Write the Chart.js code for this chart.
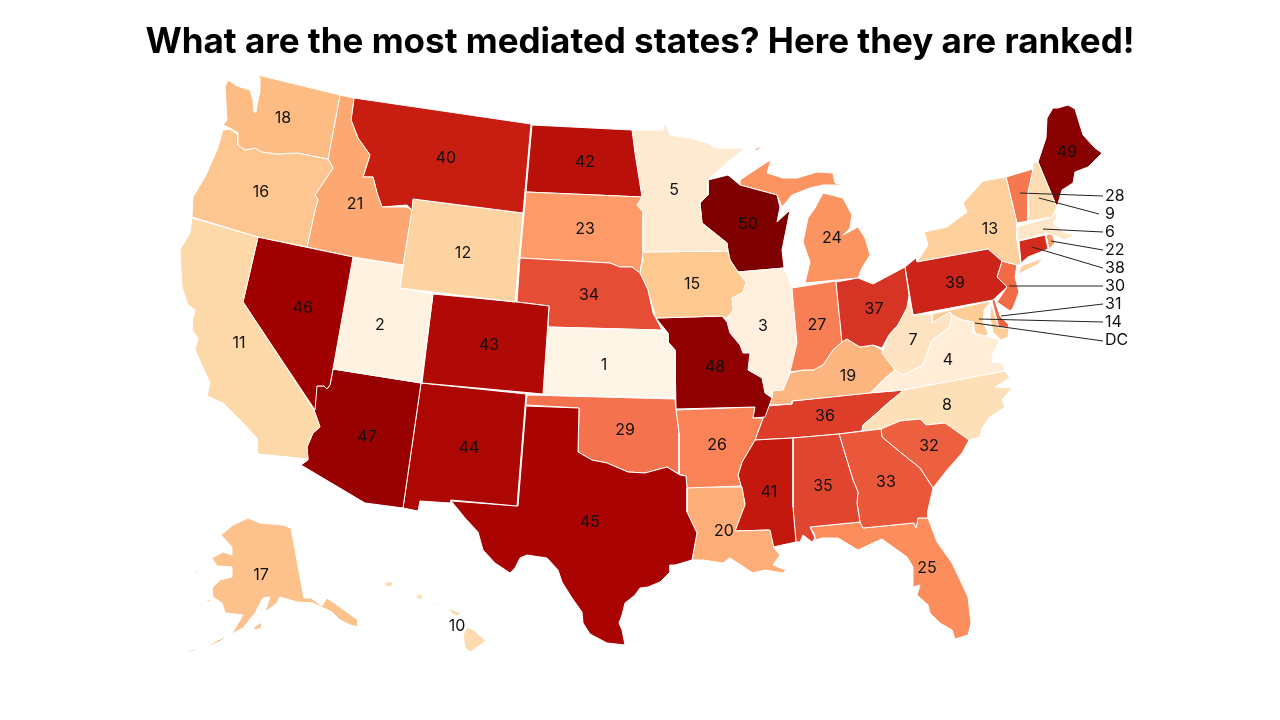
<!DOCTYPE html>
<html>
<head>
<meta charset="utf-8">
<style>
  html, body { margin: 0; background: #fff; }
  canvas { display: block; }
</style>
<script src="https://cdn.jsdelivr.net/npm/chart.js@4"></script>
</head>
<body>
<canvas id="map" width="1280" height="720"></canvas>
<script>
// outlines, in picture coordinates
const WA = [[258,75],[340,95],[328,159],[298,153],[277,154],[262,152],[255,148],[245,150],[238,145],[238,133],[230,128],[223,125],[227,120],[225,87],[228,80],[237,86],[250,90],[253,100],[254,112],[256,112],[258,100],[260,92],[260,78]];
const OR = [[223,130],[230,129],[238,135],[238,145],[245,150],[255,148],[262,152],[277,154],[298,153],[328,159],[333,168],[323,183],[315,195],[318,200],[315,210],[307,247],[258,237],[192,217],[193,197],[205,177],[217,150]];
const CA = [[192,218],[258,237],[243,302],[314,410],[320,427],[313,433],[307,447],[308,459],[258,454],[257,438],[243,423],[235,415],[223,403],[207,396],[210,383],[195,350],[198,338],[192,330],[193,318],[195,310],[188,305],[182,287],[180,250],[190,233]];
const NV = [[258,237],[353,257],[333,369],[330,385],[327,389],[324,386],[317,386],[315,410],[243,302]];
const ID = [[340,95],[354,98],[351,120],[358,138],[370,155],[363,177],[373,177],[377,193],[382,207],[407,207],[412,210],[403,265],[353,257],[307,247],[315,210],[318,200],[315,195],[323,183],[333,168],[328,159]];
const MT = [[354,98],[531,124],[523,213],[413,199],[412,210],[407,205],[382,207],[377,193],[373,177],[363,177],[370,155],[358,138],[351,120]];
const WY = [[413,199],[523,213],[515,302],[400,288]];
const UT = [[353,257],[403,265],[400,288],[433,294],[421,383],[333,369]];
const CO = [[433,294],[517,302],[549,306],[543,394],[422,383]];
const AZ = [[333,369],[421,383],[403,508],[365,503],[301,465],[308,460],[307,447],[313,433],[320,427],[314,410],[315,386],[324,386],[327,389],[330,385]];
const NM = [[421,383],[526,394],[517,506],[451,500],[450,503],[420,501],[418,511],[403,508]];
const TX = [[526,406],[579,408],[578,452],[592,460],[607,463],[628,472],[645,473],[667,467],[680,475],[686,476],[687,488],[687,512],[697,533],[692,560],[675,565],[670,565],[670,572],[660,582],[648,587],[640,588],[635,595],[625,603],[622,615],[619,623],[622,630],[625,645],[607,643],[590,634],[583,623],[582,612],[572,598],[562,582],[558,570],[547,558],[527,555],[520,558],[515,568],[510,573],[495,563],[483,550],[478,532],[465,518],[457,508],[451,501],[518,506]];
const OK = [[527,395],[675,399],[676,410],[679,433],[679,474],[667,467],[645,473],[628,472],[607,463],[592,460],[578,452],[579,408],[526,405]];
const KS = [[547,327],[657,330],[668,333],[668,342],[675,350],[675,398],[543,395]];
const NE = [[520,258],[610,263],[620,267],[632,267],[640,273],[648,290],[653,313],[662,330],[548,327],[549,306],[517,302]];
const SD = [[526,192],[642,197],[637,205],[643,212],[643,252],[640,273],[632,267],[620,267],[610,263],[520,258]];
const ND = [[532,125],[632,130],[635,153],[642,197],[526,192]];
const MN = [[632,130],[663,130],[665,122],[670,135],[690,138],[707,143],[717,148],[745,148],[728,162],[710,178],[708,180],[708,195],[700,203],[702,223],[717,235],[727,243],[728,251],[642,252],[643,212],[637,205],[642,197],[635,153]];
const IA = [[642,252],[728,251],[730,260],[738,272],[746,282],[743,292],[732,298],[733,310],[727,318],[722,316],[656,318],[648,290],[640,273],[643,260]];
const MO = [[656,318],[722,316],[727,322],[730,333],[740,345],[743,353],[750,353],[748,370],[762,378],[765,393],[772,398],[765,417],[753,418],[755,407],[676,409],[675,350],[668,342],[668,333]];
const AR = [[676,410],[755,407],[753,418],[763,418],[755,440],[742,462],[738,475],[741,486],[687,488],[686,476],[679,474],[679,433]];
const LA = [[687,487],[742,487],[745,505],[735,531],[770,530],[774,548],[780,555],[773,565],[786,570],[783,573],[765,570],[753,573],[730,558],[723,563],[703,560],[692,560],[697,533],[687,512]];
const MS = [[755,440],[793,438],[793,507],[796,542],[773,547],[769,530],[735,531],[745,503],[741,486],[738,475],[742,462]];
const AL = [[793,438],[839,434],[853,480],[858,492],[857,503],[860,522],[810,527],[815,538],[812,542],[803,535],[800,542],[796,542],[793,510]];
const GA = [[839,434],[881,429],[882,437],[900,452],[920,468],[933,488],[928,510],[928,518],[918,518],[916,528],[914,523],[863,528],[860,522],[857,503],[858,492],[853,480]];
const FL = [[810,527],[860,522],[863,528],[914,523],[916,528],[918,518],[928,518],[937,542],[952,563],[968,597],[971,623],[968,635],[955,639],[952,630],[940,623],[930,613],[928,605],[917,595],[920,585],[913,587],[913,567],[907,557],[893,547],[882,539],[875,542],[858,550],[838,538],[823,538],[815,540],[815,535]];
const SC = [[881,429],[900,421],[920,419],[926,425],[945,423],[969,440],[962,453],[947,470],[933,488],[920,468],[900,452],[882,437]];
const NC = [[904,390],[1005,371],[1010,378],[995,387],[1012,388],[1002,400],[1005,407],[990,417],[982,428],[980,437],[969,440],[945,423],[926,425],[920,419],[900,421],[881,429],[862,431],[863,425],[877,413],[888,403]];
const VA = [[870,393],[895,370],[903,375],[923,365],[932,340],[950,327],[952,315],[962,320],[973,322],[973,333],[990,337],[1000,340],[993,353],[992,362],[1003,363],[1005,371],[904,390]];
const WV = [[910,300],[913,315],[932,314],[932,323],[950,312],[952,315],[950,327],[932,340],[923,365],[903,375],[895,370],[882,353],[889,335],[898,325],[907,308]];
const OH = [[836,282],[858,278],[873,284],[905,267],[909,295],[907,308],[898,325],[889,335],[882,348],[873,345],[860,347],[847,339],[842,342]];
const IN = [[792,288],[836,281],[842,342],[833,350],[823,365],[813,370],[803,370],[790,372],[797,343],[793,300]];
const IL = [[738,272],[784,268],[792,287],[797,350],[790,372],[783,390],[772,391],[772,398],[765,393],[762,378],[748,370],[750,353],[743,353],[740,345],[730,333],[727,323],[727,318],[733,310],[732,298],[743,292],[746,282]];
const WI = [[708,180],[728,175],[740,185],[777,195],[780,207],[777,222],[790,210],[782,250],[784,268],[738,272],[730,260],[728,251],[727,243],[717,235],[702,223],[700,203],[708,195]];
const MI_LOWER = [[823,193],[843,198],[852,215],[850,228],[843,235],[858,227],[865,238],[870,255],[862,268],[858,278],[805,283],[810,262],[803,242],[808,218],[815,208]];
const MI_UPPER = [[740,180],[767,162],[771,160],[767,173],[783,178],[797,178],[817,172],[833,173],[835,183],[843,185],[823,185],[810,188],[792,195],[782,207],[777,195],[740,185]];
const MI_ISLE = [[755,149],[761,146],[760,148],[756,151]];
const KY = [[770,405],[773,390],[783,390],[790,373],[803,370],[813,370],[823,365],[833,350],[842,342],[847,339],[860,347],[873,345],[882,350],[895,370],[885,378],[870,393],[792,401],[792,404]];
const TN = [[767,406],[792,404],[792,401],[867,393],[904,390],[888,403],[877,413],[863,425],[862,431],[839,434],[793,438],[755,440],[763,418]];
const PA = [[905,267],[916,258],[917,262],[988,249],[1002,261],[997,277],[1007,287],[993,300],[913,315]];
const NY = [[917,262],[928,245],[924,232],[947,227],[967,212],[963,203],[983,181],[1006,177],[1017,223],[1017,240],[1021,265],[1017,265],[1002,261],[988,249]];
const NY_LONG = [[1018,274],[1021,266],[1043,258],[1037,265]];
const VT = [[1006,177],[1033,169],[1028,192],[1028,221],[1017,223]];
const NH = [[1033,163],[1038,162],[1053,198],[1057,207],[1052,217],[1029,221],[1028,192],[1033,169]];
const ME = [[1038,162],[1046,138],[1047,118],[1053,108],[1058,108],[1068,105],[1075,109],[1083,135],[1095,148],[1102,153],[1088,167],[1075,172],[1073,183],[1062,190],[1057,207],[1053,198]];
const MA = [[1017,227],[1052,217],[1055,212],[1057,217],[1053,223],[1063,232],[1075,235],[1065,240],[1058,237],[1047,233],[1018,241]];
const CT = [[1019,241],[1045,235],[1048,249],[1028,257],[1021,263]];
const RI = [[1046,235],[1052,233],[1055,243],[1049,249]];
const NJ = [[1002,261],[1017,265],[1015,277],[1019,292],[1013,308],[1010,311],[997,302],[1007,287],[997,277]];
const DE = [[992,301],[994,298],[1000,316],[1009,325],[1009,327],[999,328]];
const MD_WEST = [[932,314],[991,301],[984,310],[983,322],[988,333],[985,338],[975,333],[973,322],[962,320],[952,315],[950,312],[932,323]];
const MD_EAST = [[991,303],[999,328],[1009,328],[1008,337],[1001,340],[993,332],[990,318]];
const AK_MAIN = [[248,518],[260,523],[283,525],[291,528],[304,598],[311,598],[322,606],[327,598],[340,607],[358,620],[358,627],[350,625],[340,620],[332,612],[313,603],[297,602],[280,597],[277,603],[265,612],[270,597],[263,598],[255,613],[243,628],[228,636],[233,632],[243,615],[225,613],[222,603],[213,597],[212,588],[220,580],[232,577],[232,567],[217,566],[212,558],[223,552],[232,555],[232,547],[221,535],[233,525]];
const AK_KODIAK = [[253,628],[262,622],[261,628],[256,630]];
const AK_CHAIN = [[207,645],[213,643],[218,640],[225,637],[224,639],[219,642],[212,645]];
const AK_FAR = [[187,652],[197,648],[196,650],[188,653]];
const AK_LAWRENCE = [[194,570],[202,574],[200,574],[195,572]];
const AK_NUNIVAK = [[205,600],[210,599],[210,602]];
const HI_KAUAI = [[384,583],[392,581],[393,586],[387,587]];
const HI_OAHU = [[416,597],[421,593],[423,599],[418,599]];
const HI_MOLOKAI = [[435,604],[440,604],[438,606]];
const HI_MAUI = [[448,608],[453,610],[461,613],[458,616],[452,614]];
const HI_BIG = [[467,627],[475,631],[486,641],[470,652],[465,648],[463,635]];

const stateRanks = [18,16,11,46,21,40,12,2,43,47,44,45,29,1,34,23,42,5,15,48,26,20,41,35,33,25,32,8,4,7,37,27,3,50,24,24,24,19,36,39,13,13,28,9,49,6,38,22,30,31,14,14,17,17,17,17,17,17,10,10,10,10,10];
const stateShapes = [WA,OR,CA,NV,ID,MT,WY,UT,CO,AZ,NM,TX,OK,KS,NE,SD,ND,MN,IA,MO,AR,LA,MS,AL,GA,FL,SC,NC,VA,WV,OH,IN,IL,WI,MI_LOWER,MI_UPPER,MI_ISLE,KY,TN,PA,NY,NY_LONG,VT,NH,ME,MA,CT,RI,NJ,DE,MD_WEST,MD_EAST,AK_MAIN,AK_KODIAK,AK_CHAIN,AK_FAR,AK_LAWRENCE,AK_NUNIVAK,HI_KAUAI,HI_OAHU,HI_MOLOKAI,HI_MAUI,HI_BIG];

// colour per rank, index 0 = rank 1
const rankColors = ['#fff5e6','#fff2e1','#ffefdc','#ffedd8','#feead0','#fee6c8','#fee3c3','#fddfb8','#fddcb2','#fddaaf','#fdd8a9','#fdd3a1','#fdd09d','#fdcc97','#fdc991','#fdc58f','#fdc28b','#fdbc84','#fdb57f','#fdae78','#fda873','#fc9f6b','#fd9a68','#fc9462','#fc8d5c','#f98257','#f77e55','#f67850','#f4734e','#f16b47','#ee6543','#ec6040','#ea583b','#e54e35','#e04530','#dc3e2a','#d63424','#d22c1e','#cc2418','#c81e12','#c3180e','#b9100a','#b10a06','#ad0704','#a90402','#a00000','#990000','#900000','#880000','#7f0000'];

// numbers printed on the states
const mapLabels = ['18','16','21','40','12','46','2','11','47','43','44','42','23','34','5','15','50','24','3','27','1','48','29','26','45','41','35','33','36','19','32','8','4','7','37','39','13','49','20','25','17','10'];
const mapLabelX = [283,261,355,446,463,303,380,239,367,489,469,585,585,589,674,692,748,832,763,817,604,715,625,717,590,769,823,886,825,848,929,947,948,913,874,955,990,1067,724,927,261,457];
const mapLabelY = [118,192,204,158,253,308,325,343,437,345,448,162,229,295,190,284,224,238,326,325,365,367,430,445,522,492,486,482,416,376,446,405,360,340,309,283,229,152,531,568,575,626];

// small states labelled off to the right with a leader line
const sideLabels = ['28','9','6','22','38','30','31','14','DC'];
const sideLabelY = [196,214,232,250,268,286,304,322,340];
const leaderFromX = [1020,1039,1043,1051,1032,1009,1001,979,975];
const leaderFromY = [193,198,229,241,247,286,316,319,323];
const leaderToX = [1103,1099,1103,1103,1103,1103,1103,1103,1103];
const leaderToY = [196,214,232,250,268,286,304,322,341];
const SIDE_LABEL_X = 1105;

const LABEL_FONT = '16px Inter';

const leaderSets = sideLabels.map((name, i) => ({
    label: 'leader ' + name,
    data: [{ x: leaderFromX[i], y: leaderFromY[i] }, { x: leaderToX[i], y: leaderToY[i] }],
    showLine: true,
    fill: false,
    borderColor: '#222',
    borderWidth: 1,
    pointRadius: 0
}));

const stateSets = stateShapes.map((shape, i) => ({
    label: 'rank ' + stateRanks[i],
    data: shape.concat([shape[0]]).map(p => ({ x: p[0], y: p[1] })),
    showLine: true,
    fill: 'shape',
    tension: 0,
    backgroundColor: rankColors[stateRanks[i] - 1],
    borderColor: '#fff',
    borderWidth: 1,
    pointRadius: 0
}));

const numberPlugin = {
    id: 'numbers',
    afterDatasetsDraw(chart) {
        const { ctx, scales } = chart;
        ctx.save();
        ctx.font = LABEL_FONT;
        ctx.fillStyle = '#111';
        ctx.textBaseline = 'middle';
        ctx.textAlign = 'center';
        mapLabels.forEach((t, i) => {
            ctx.fillText(t, scales.x.getPixelForValue(mapLabelX[i]), scales.y.getPixelForValue(mapLabelY[i]));
        });
        ctx.textAlign = 'left';
        sideLabels.forEach((t, i) => {
            ctx.fillText(t, scales.x.getPixelForValue(SIDE_LABEL_X), scales.y.getPixelForValue(sideLabelY[i]));
        });
        ctx.restore();
    }
};

new Chart(document.getElementById('map'), {
    type: 'scatter',
    data: { datasets: leaderSets.concat(stateSets) },
    options: {
        responsive: false,
        animation: false,
        layout: { padding: 0 },
        scales: {
            x: { type: 'linear', min: 0, max: 1280, display: false },
            y: { type: 'linear', min: 68, max: 720, reverse: true, display: false }
        },
        plugins: {
            legend: { display: false },
            tooltip: { enabled: false },
            title: {
                display: true,
                text: 'What are the most mediated states? Here they are ranked!',
                color: '#000',
                font: { family: 'Inter', size: 35, weight: 'bold', lineHeight: 1.2 },
                padding: { top: 21, bottom: 5 }
            }
        }
    },
    plugins: [numberPlugin]
});
</script>
</body>
</html>
